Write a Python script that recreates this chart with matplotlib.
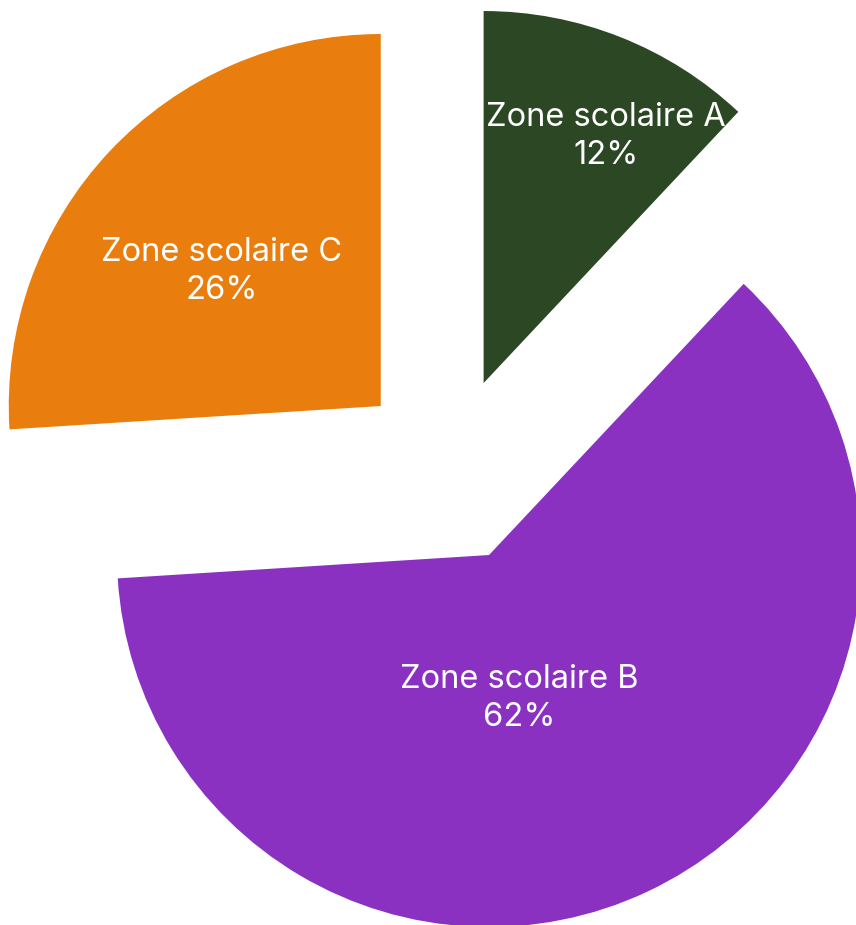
import numpy as np
import matplotlib
matplotlib.use("Agg")
import matplotlib.pyplot as plt

# data
zones = ["Zone scolaire A", "Zone scolaire B", "Zone scolaire C"]
parts = [12, 62, 26]
colors = ["#2c4724", "#8a31c2", "#e97e0e"]

# label placement relative to each wedge apex: (fraction of radius, angle in deg)
lab_pos = [(0.74, 63.6), (0.395, -78.0), (0.56, 139.8)]

W, H = 856, 925
fig = plt.figure(figsize=(W / 100, H / 100), dpi=100)
ax = fig.add_axes([0, 0, 1, 1])

R = 372
cx, cy = 449.1, H - 470.2
# explode is in data units (pixels here)
wedges, _ = ax.pie(parts, colors=colors, startangle=90, counterclock=False,
                   radius=R, center=(cx, cy), explode=[93.75] * 3,
                   wedgeprops=dict(linewidth=0))

for w, name, p, (f, a) in zip(wedges, zones, parts, lab_pos):
    x0, y0 = w.center
    x = x0 + f * R * np.cos(np.radians(a))
    y = y0 + f * R * np.sin(np.radians(a))
    ax.text(x, y, f"{name}\n{p}%", ha="center", va="center", color="white",
            fontsize=23.5, family="Inter", linespacing=1.3)

ax.set_xlim(0, W)
ax.set_ylim(0, H)
ax.set_aspect("auto")
ax.axis("off")

fig.savefig("out.png", dpi=100, facecolor="white")
